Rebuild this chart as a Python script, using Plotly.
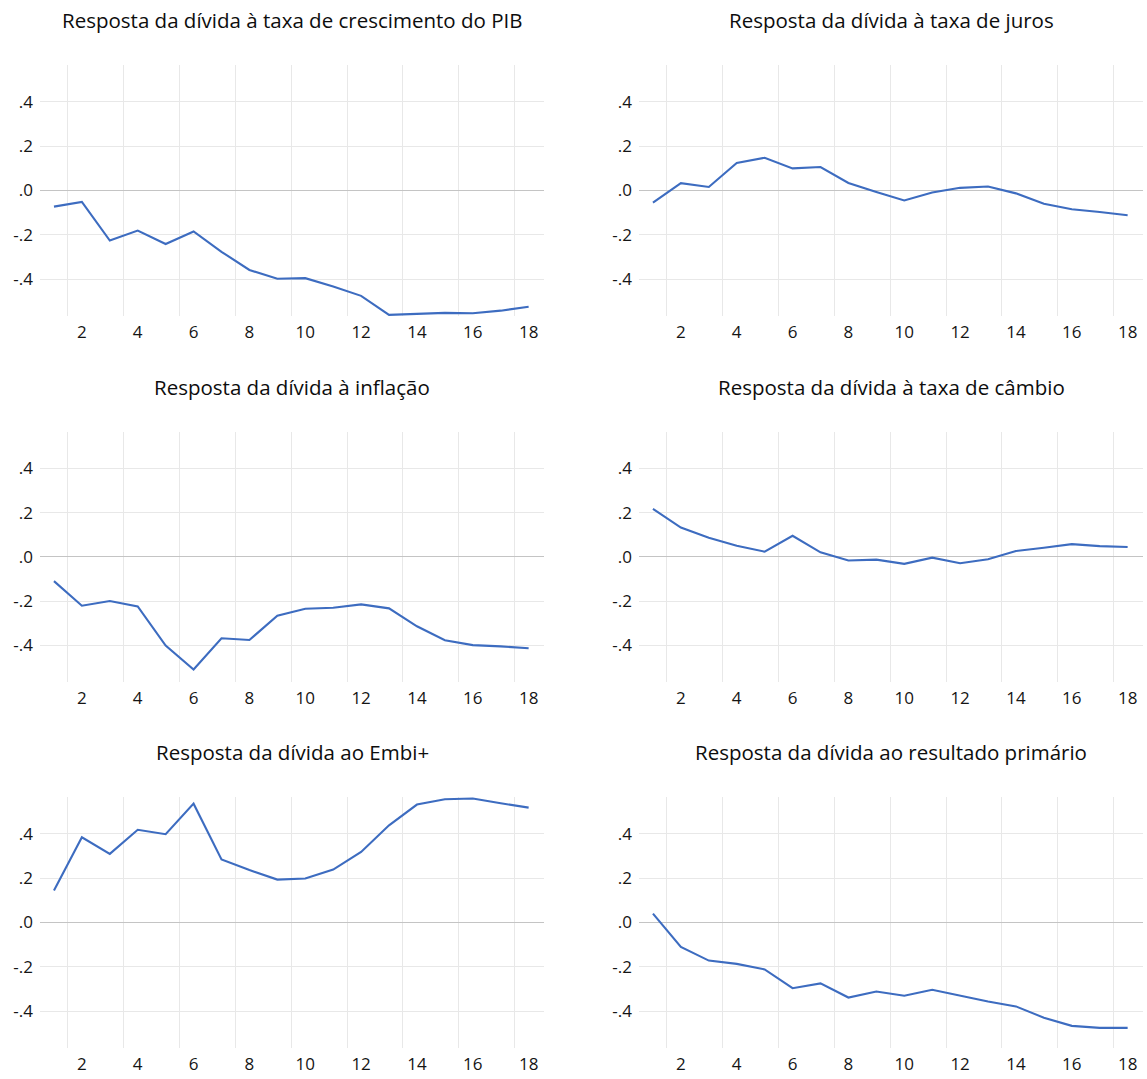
import plotly.graph_objects as go

# Horizon (periods after the shock)
periods = list(range(1, 19))

# Impulse responses of public debt to each shock
resp_pib = [-0.073, -0.052, -0.226, -0.181, -0.242, -0.185, -0.277, -0.359, -0.399,
            -0.396, -0.434, -0.476, -0.562, -0.556, -0.553, -0.555, -0.543, -0.525]
resp_juros = [-0.055, 0.033, 0.016, 0.124, 0.148, 0.100, 0.106, 0.034, -0.007,
              -0.045, -0.009, 0.012, 0.018, -0.013, -0.060, -0.085, -0.097, -0.112]
resp_inflacao = [-0.109, -0.220, -0.199, -0.223, -0.400, -0.508, -0.367, -0.375, -0.265,
                 -0.234, -0.229, -0.214, -0.232, -0.313, -0.376, -0.398, -0.404, -0.412]
resp_cambio = [0.217, 0.133, 0.087, 0.051, 0.024, 0.096, 0.021, -0.016, -0.012,
               -0.031, -0.003, -0.028, -0.010, 0.027, 0.042, 0.058, 0.049, 0.045]
resp_embi = [0.145, 0.385, 0.310, 0.419, 0.399, 0.537, 0.285, 0.237, 0.194,
             0.199, 0.239, 0.319, 0.439, 0.533, 0.557, 0.560, 0.539, 0.519]
resp_primario = [0.040, -0.110, -0.172, -0.187, -0.212, -0.297, -0.275, -0.339, -0.312,
                 -0.331, -0.304, -0.330, -0.357, -0.379, -0.430, -0.467, -0.476, -0.476]

titles = [
    "Resposta da dívida à taxa de crescimento do PIB",
    "Resposta da dívida à taxa de juros",
    "Resposta da dívida à inflação",
    "Resposta da dívida à taxa de câmbio",
    "Resposta da dívida ao Embi+",
    "Resposta da dívida ao resultado primário",
]
series = [resp_pib, resp_juros, resp_inflacao, resp_cambio, resp_embi, resp_primario]

y_tickvals = [-0.4, -0.2, 0.0, 0.2, 0.4]
y_ticktext = ["-.4", "-.2", ".0", ".2", ".4"]
x_tickvals = list(range(2, 19, 2))

W, H = 1147, 1079
M_L, M_R, M_T, M_B = 40, 4, 65, 27
plot_w = W - M_L - M_R
plot_h = H - M_T - M_B

# Panel positions in pixels (left, right) and (top, bottom)
cols_px = [(40, 544), (639, 1143)]
rows_px = [(65, 317), (433, 685), (800, 1052)]

FONT = "Open Sans, sans-serif"
LINE_COLOR = "#3d6cc0"
GRID = "#e8e8e8"
ZERO = "#c4c4c4"
TEXT = "#151515"

fig = go.Figure()
layout = dict(
    width=W, height=H,
    margin=dict(l=M_L, r=M_R, t=M_T, b=M_B),
    paper_bgcolor="white", plot_bgcolor="white",
    showlegend=False,
    font=dict(family=FONT, size=17, color=TEXT),
)
annotations = []

for i, (title, vals) in enumerate(zip(titles, series)):
    r, c = divmod(i, 2)
    n = i + 1
    xa = "xaxis" if n == 1 else f"xaxis{n}"
    ya = "yaxis" if n == 1 else f"yaxis{n}"
    xr = "x" if n == 1 else f"x{n}"
    yr = "y" if n == 1 else f"y{n}"

    x0, x1 = cols_px[c]
    t0, t1 = rows_px[r]
    xdom = [(x0 - M_L) / plot_w, (x1 - M_L) / plot_w]
    ydom = [1 - (t1 - M_T) / plot_h, 1 - (t0 - M_T) / plot_h]

    fig.add_trace(go.Scatter(
        x=periods, y=vals, mode="lines",
        line=dict(color=LINE_COLOR, width=2.1),
        xaxis=xr, yaxis=yr, hoverinfo="x+y",
    ))

    layout[xa] = dict(
        domain=xdom, anchor=yr, range=[0.5, 18.55],
        tickmode="array", tickvals=x_tickvals, ticktext=[str(v) for v in x_tickvals],
        showgrid=False, zeroline=False, showline=False,
        ticks="", ticklabelstandoff=4,
        tickfont=dict(family=FONT, size=17, color=TEXT),
        minor=dict(tick0=1.5, dtick=2, showgrid=True, gridcolor=GRID, gridwidth=1),
    )
    layout[ya] = dict(
        domain=ydom, anchor=xr, range=[-0.567, 0.567],
        tickmode="array", tickvals=y_tickvals, ticktext=y_ticktext,
        showgrid=True, gridcolor=GRID, gridwidth=1,
        zeroline=True, zerolinecolor=ZERO, zerolinewidth=1.2,
        showline=False, ticks="", ticklabelstandoff=6,
        tickfont=dict(family=FONT, size=17, color=TEXT),
    )

    annotations.append(dict(
        text=title, showarrow=False,
        xref="paper", yref="paper",
        x=(xdom[0] + xdom[1]) / 2,
        y=ydom[1] + 45 / plot_h,
        xanchor="center", yanchor="middle",
        font=dict(family=FONT, size=20.5, color="#0d0d0d"),
    ))

layout["annotations"] = annotations
fig.update_layout(**layout)

fig.write_html("out.html")
